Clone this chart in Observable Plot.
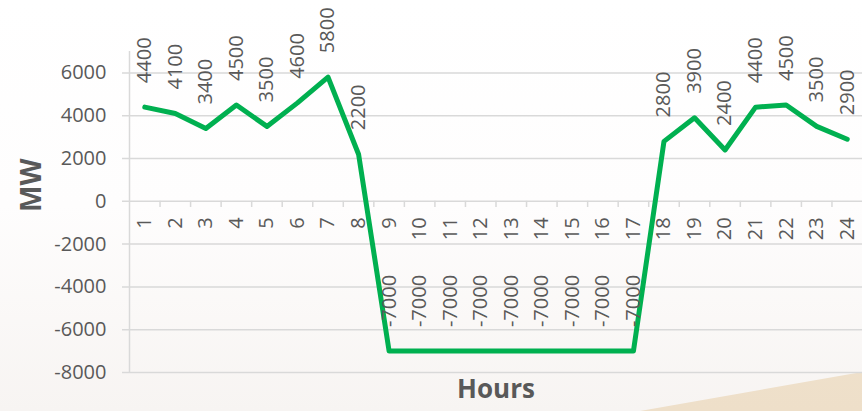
<!DOCTYPE html>
<html>
<head>
<meta charset="utf-8">
<script src="https://cdn.jsdelivr.net/npm/d3@7"></script>
<script src="https://cdn.jsdelivr.net/npm/@observablehq/plot@0.6"></script>
<style>
  html, body { margin: 0; padding: 0; }
  body {
    width: 862px; height: 411px; overflow: hidden; position: relative;
    background: linear-gradient(to bottom, #ffffff 0%, #fefdfd 50%, #f7f4f2 100%);
    font-family: "Open Sans", sans-serif;
  }
  #swoosh {
    position: absolute; left: 0; top: 0; width: 862px; height: 411px;
    clip-path: polygon(640px 411px, 862px 372px, 862px 411px);
    background: linear-gradient(to bottom, #f4e9d8 0%, #eedfc9 100%);
  }
  #chart { position: absolute; left: 0; top: 0; }
</style>
</head>
<body>
<div id="swoosh"></div>
<div id="chart"></div>
<script>
const hours = [1,2,3,4,5,6,7,8,9,10,11,12,13,14,15,16,17,18,19,20,21,22,23,24];
const mw = [4400,4100,3400,4500,3500,4600,5800,2200,-7000,-7000,-7000,-7000,-7000,-7000,-7000,-7000,-7000,2800,3900,2400,4400,4500,3500,2900];
const yTicks = [-8000,-6000,-4000,-2000,0,2000,4000,6000];
const xLabel = "Hours";
const yLabel = "MW";

const data = hours.map((h, i) => ({hour: h, value: mw[i]}));
const boundaries = d3.range(1.5, 24.5, 1);

const textColor = "#595959";
const gridColor = "#d9d9d9";

const chart = Plot.plot({
  width: 862,
  height: 411,
  marginLeft: 129,
  marginRight: 0,
  marginTop: 51,
  marginBottom: 39,
  style: {background: "transparent", fontFamily: "Open Sans, sans-serif", overflow: "visible"},
  x: {domain: [0.5, 24.5], axis: null},
  y: {domain: [-8000, 7000], axis: null},
  marks: [
    Plot.ruleY(yTicks, {stroke: gridColor, strokeWidth: 1.5, insetLeft: -7}),
    Plot.ruleX([0.5], {y1: -8000, y2: 7000, stroke: gridColor, strokeWidth: 1.5}),
    Plot.ruleX(boundaries, {y1: 0, y2: -290, stroke: gridColor, strokeWidth: 1.5}),
    Plot.text(yTicks, {x: 0.5, y: d => d, text: d => String(d), textAnchor: "end", dx: -23, fontSize: 20, fill: textColor}),
    Plot.text(hours, {x: d => d, y: 0, text: d => String(d), rotate: -90, textAnchor: "end", dy: 16, fontSize: 20, fill: textColor}),
    Plot.line(data, {x: "hour", y: "value", stroke: "#00B050", strokeWidth: 5}),
    Plot.text(data, {x: "hour", y: "value", text: d => String(d.value), rotate: -90, textAnchor: "start", dy: -24, fontSize: 20, fill: textColor}),
    Plot.text([yLabel], {frameAnchor: "left", dx: -97, rotate: -90, fontSize: 28, fontWeight: "bold", fill: textColor}),
    Plot.text([xLabel], {frameAnchor: "bottom", dy: 25, fontSize: 26, fontWeight: "bold", fill: textColor})
  ]
});
document.getElementById("chart").appendChild(chart);
</script>
</body>
</html>
